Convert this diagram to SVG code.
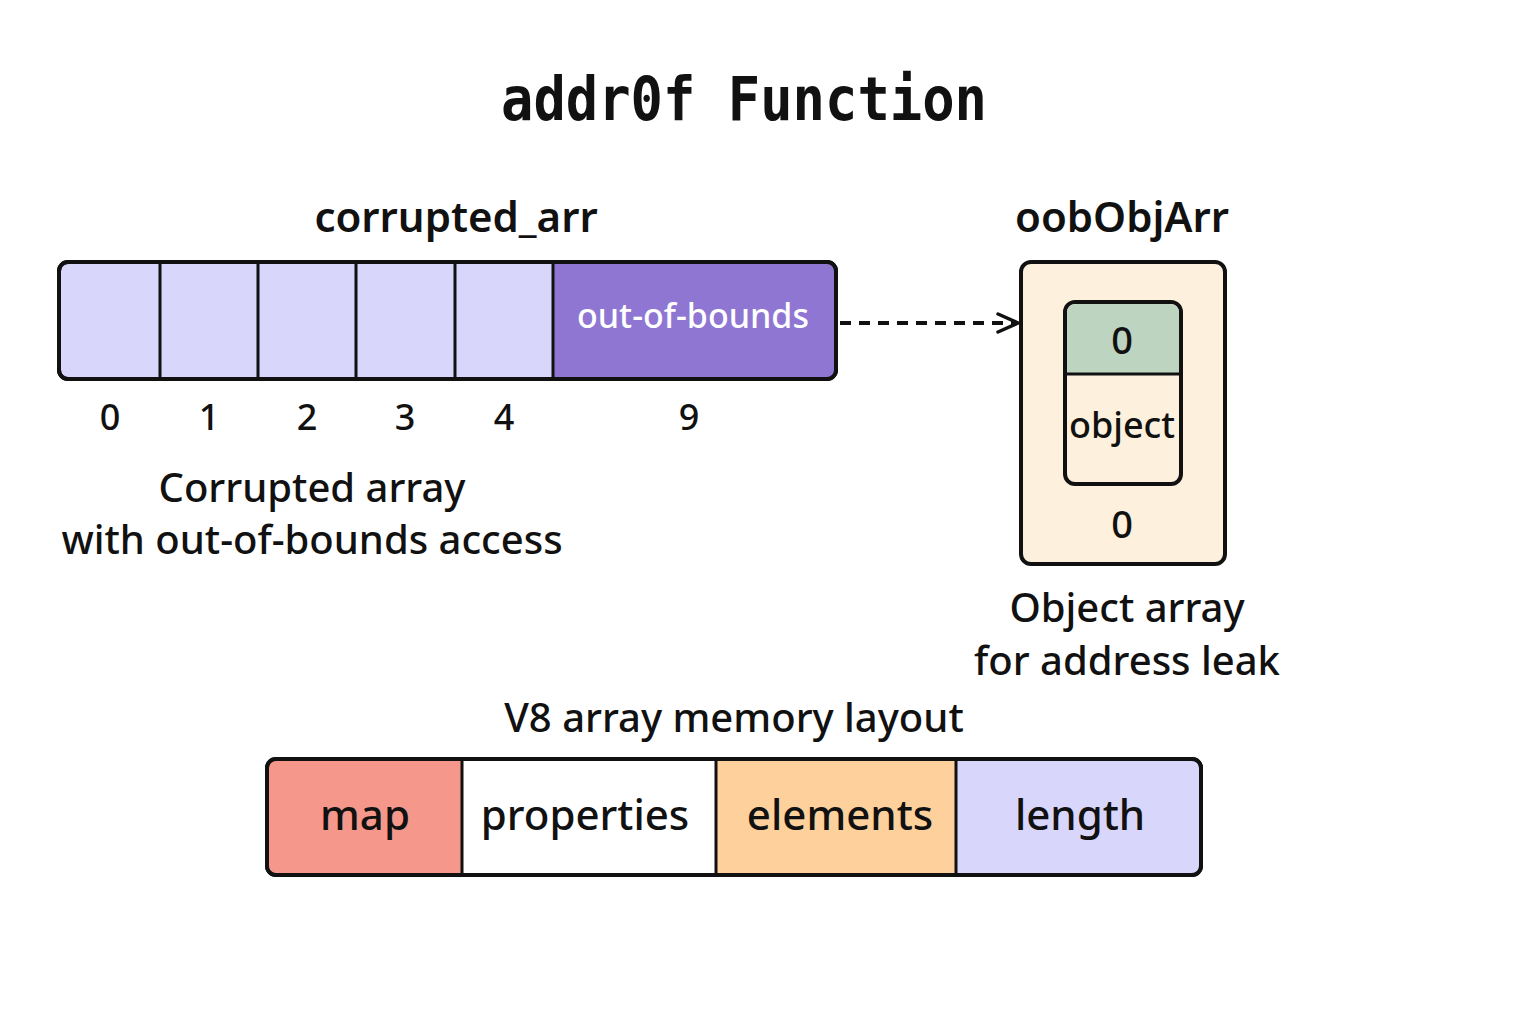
<svg xmlns="http://www.w3.org/2000/svg" width="1536" height="1024" viewBox="0 0 1536 1024">
<style>
.t{font-family:"Noto Sans","DejaVu Sans",sans-serif;fill:#111;text-anchor:middle;font-weight:500}
.box{stroke:#111;stroke-width:4}
.div{stroke:#111;stroke-width:3}
</style>
<defs>
<marker id="arr" viewBox="0 0 24 24" refX="22" refY="12" markerWidth="24" markerHeight="24" markerUnits="userSpaceOnUse" orient="auto">
<path d="M2,3 L22,12 L2,21" fill="none" stroke="#111" stroke-width="3.5" stroke-linecap="round"/>
</marker>
</defs>
<rect width="1536" height="1024" fill="#fff"/>
<text x="744" y="120" font-family="DejaVu Sans Mono,monospace" font-weight="bold" font-size="60" fill="#111" text-anchor="middle" textLength="486" lengthAdjust="spacingAndGlyphs">addr0f Function</text>

<g id="corrupted_arr">
<text class="t" x="456" y="232" font-size="42" style="font-weight:600">corrupted_arr</text>
<rect x="59" y="262" width="777" height="117" rx="9" fill="#d8d6fa" class="box"/>
<path d="M553,264 H827 Q834,264 834,271 V370 Q834,377 827,377 H553 Z" fill="#8e76d2"/>
<path class="div" d="M160,263V378 M258,263V378 M356,263V378 M455,263V378 M553,263V378"/>
<rect x="59" y="262" width="777" height="117" rx="9" fill="none" class="box"/>
<text class="t" x="693" y="328" font-size="34" style="fill:#fff">out-of-bounds</text>
<text class="t" x="110" y="430" font-size="36">0</text>
<text class="t" x="209" y="430" font-size="36">1</text>
<text class="t" x="307" y="430" font-size="36">2</text>
<text class="t" x="405" y="430" font-size="36">3</text>
<text class="t" x="504" y="430" font-size="36">4</text>
<text class="t" x="689" y="430" font-size="36">9</text>
<text class="t" x="312" y="502" font-size="40">Corrupted array</text>
<text class="t" x="312" y="554" font-size="40">with out-of-bounds access</text>
</g>

<g id="oobObjArr">
<text class="t" x="1122" y="232" font-size="42" style="font-weight:600">oobObjArr</text>
<rect x="1021" y="262" width="204" height="302" rx="10" fill="#fdf0dc" class="box"/>
<rect x="1065" y="302" width="116" height="182" rx="10" fill="#fdf0dc" class="box"/>
<path d="M1067,374 V314 Q1067,304 1077,304 H1169 Q1179,304 1179,314 V374 Z" fill="#bcd4c0"/>
<path class="div" d="M1066,374 H1180"/>
<text class="t" x="1122" y="354" font-size="38">0</text>
<text class="t" x="1122" y="438" font-size="36">object</text>
<text class="t" x="1122" y="538" font-size="38">0</text>
<text class="t" x="1127" y="622" font-size="40">Object array</text>
<text class="t" x="1127" y="675" font-size="40">for address leak</text>
</g>

<g id="connectors">
<path d="M840,323 H1018" fill="none" stroke="#111" stroke-width="4" stroke-dasharray="11,8" marker-end="url(#arr)"/>
</g>

<g id="memory_layout">
<text class="t" x="734" y="732" font-size="40">V8 array memory layout</text>
<rect x="267" y="759" width="934" height="116" rx="9" fill="#fff" class="box"/>
<path d="M462,761 V873 H276 Q269,873 269,866 V768 Q269,761 276,761 Z" fill="#f5978a"/>
<rect x="716" y="761" width="240" height="112" fill="#fdd09c"/>
<path d="M956,761 H1192 Q1199,761 1199,768 V866 Q1199,873 1192,873 H956 Z" fill="#d8d6fa"/>
<path class="div" d="M462,760V874 M716,760V874 M956,760V874"/>
<rect x="267" y="759" width="934" height="116" rx="9" fill="none" class="box"/>
<text class="t" x="365" y="830" font-size="42">map</text>
<text class="t" x="585" y="830" font-size="42">properties</text>
<text class="t" x="840" y="830" font-size="42">elements</text>
<text class="t" x="1080" y="830" font-size="42">length</text>
</g>
</svg>
